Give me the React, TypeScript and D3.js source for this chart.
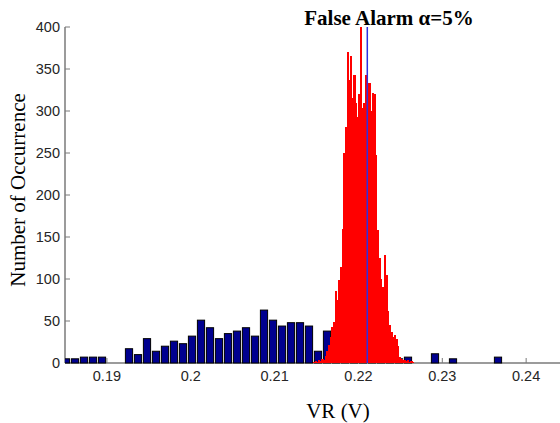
import React from "react";
import * as d3 from "d3";

// ---- data ----
const xTicks = [0.19, 0.2, 0.21, 0.22, 0.23, 0.24];
const yTicks = [0, 50, 100, 150, 200, 250, 300, 350, 400];

// blue histogram (all observations)
const blueFirstCenter = 0.185119;
const blueBinWidth = 0.0010734;
const blueCounts = [
  5, 5, 7, 7, 7, 0, 0, 17, 10, 29, 14, 20, 26, 23, 32, 51, 42, 29, 35, 38,
  42, 32, 63, 51, 44, 48, 48, 44, 14, 38, 35, 30, 25, 20, 15, 10, 8, 5, 7, 0,
  0, 11, 0, 5, 0, 0, 0, 0, 7,
];

// red histogram (fine bins)
const redFirstCenter = 0.214678;
const redBinWidth = 0.0002004;
const redCounts = [
  1, 2, 1, 3, 2, 5, 4, 8, 14, 22, 31, 43, 49, 86, 75, 99, 114, 160, 250, 281,
  370, 337, 365, 315, 343, 310, 293, 320, 400, 304, 309, 343, 325, 333, 300, 321, 320, 248, 158, 125,
  100, 90, 128, 105, 62, 45, 37, 31, 33, 28, 20, 7, 5, 3, 4, 2, 3, 1, 2, 1,
];

const thresholdX = 0.221054;
const thresholdTop = 400;

const title = "False Alarm α=5%";
const xLabel = "VR (V)";
const yLabel = "Number of Occurrence";

export default function App() {
  const W = 560;
  const H = 423;
  const x = d3.scaleLinear().domain([0.185, 0.25]).range([65, 610]);
  const y = d3.scaleLinear().domain([0, 400]).range([363, 27]);
  const sans = "'Liberation Sans', Arial, Helvetica, sans-serif";
  const serif = "'Liberation Serif', 'Times New Roman', Times, serif";
  const axisColor = "#7a7a7a";

  const blueW = x(blueFirstCenter + blueBinWidth * 0.8) - x(blueFirstCenter);
  const redStep = x(redFirstCenter + redBinWidth) - x(redFirstCenter);

  return (
    <svg
      width={W}
      height={H}
      style={{ position: "absolute", left: 0, top: 0, background: "#fff" }}
    >
      <defs>
        <clipPath id="plot">
          <rect x={x(0.185)} y={0} width={W} height={y(0) + 2} />
        </clipPath>
      </defs>
      {/* axes lines */}
      <line x1={x(0.185)} x2={W} y1={y(0)} y2={y(0)} stroke={axisColor} strokeWidth={1.5} />
      <line x1={x(0.185)} x2={x(0.185)} y1={y(400)} y2={y(0)} stroke={axisColor} strokeWidth={1.5} />
      {/* ticks */}
      {xTicks.map((t) => (
        <g key={"xt" + t}>
          <line x1={x(t)} x2={x(t)} y1={y(0)} y2={y(0) - 5} stroke={axisColor} strokeWidth={1} />
          <text
            x={x(t)}
            y={y(0) + 18}
            textAnchor="middle"
            fontFamily={sans}
            fontSize={14.5}
            fill="#262626"
          >
            {d3.format("")(t)}
          </text>
        </g>
      ))}
      {yTicks.map((t) => (
        <g key={"yt" + t}>
          <line x1={x(0.185)} x2={x(0.185) + 5} y1={y(t)} y2={y(t)} stroke={axisColor} strokeWidth={1} />
          <text
            x={x(0.185) - 5}
            y={y(t)}
            dy="0.36em"
            textAnchor="end"
            fontFamily={sans}
            fontSize={14.5}
            fill="#262626"
          >
            {t}
          </text>
        </g>
      ))}
      <g clipPath="url(#plot)">
        {/* blue histogram */}
        {blueCounts.map((c, k) => {
          const cx = x(blueFirstCenter + k * blueBinWidth);
          return (
            <rect
              key={"b" + k}
              x={cx - blueW / 2}
              y={y(c)}
              width={blueW}
              height={y(0) - y(c)}
              fill="#00008f"
              stroke="#000"
              strokeWidth={1}
            />
          );
        })}
        {/* red histogram */}
        <g shapeRendering="crispEdges">
          {redCounts.map((c, i) => {
            const cx = x(redFirstCenter + i * redBinWidth);
            return (
              <rect
                key={"r" + i}
                x={cx - redStep / 2}
                y={y(c)}
                width={redStep + 0.6}
                height={y(0) - y(c)}
                fill="#ff0000"
              />
            );
          })}
        </g>
        {/* threshold line */}
        <line
          x1={x(thresholdX)}
          x2={x(thresholdX)}
          y1={y(0)}
          y2={y(thresholdTop)}
          stroke="#3030e0"
          strokeWidth={1.5}
        />
      </g>
      {/* texts */}
      <text x={389} y={25} textAnchor="middle" fontFamily={serif} fontWeight="bold" fontSize={21}>
        {title}
      </text>
      <text x={338} y={418} textAnchor="middle" fontFamily={serif} fontSize={21}>
        {xLabel}
      </text>
      <text
        transform={`translate(25, 190) rotate(-90)`}
        textAnchor="middle"
        fontFamily={serif}
        fontSize={21}
      >
        {yLabel}
      </text>
    </svg>
  );
}
